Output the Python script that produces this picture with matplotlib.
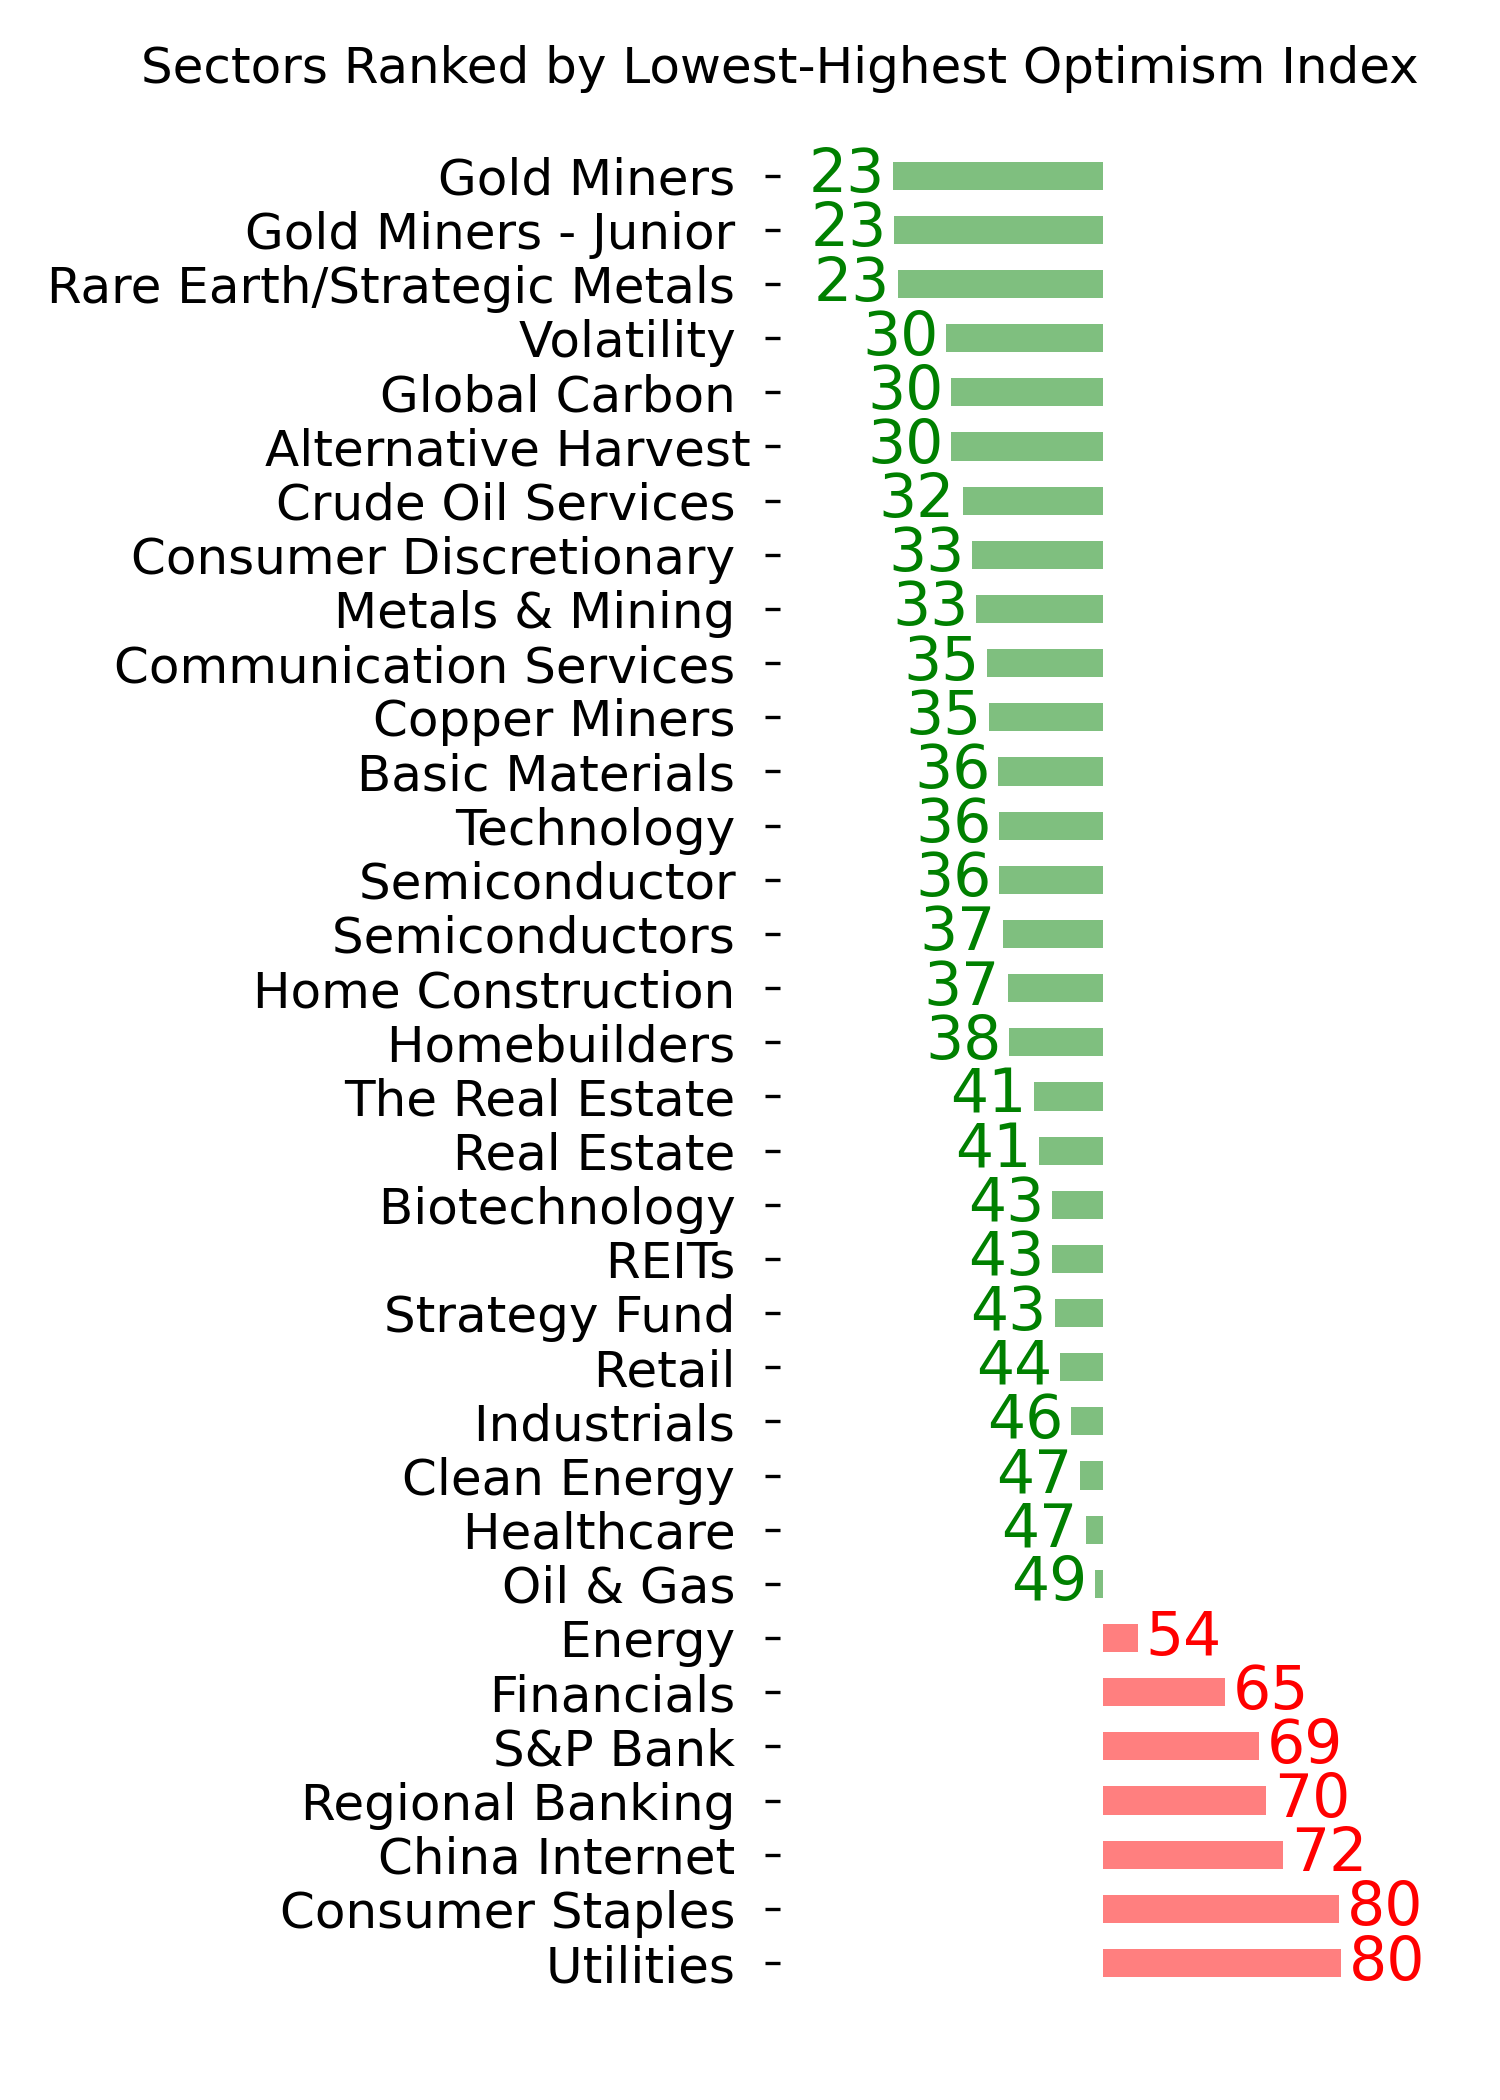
import matplotlib
matplotlib.use("Agg")
import matplotlib.pyplot as plt

# sector names as they appear on the axis (most carry a trailing space)
sectors = ['Gold Miners ', 'Gold Miners - Junior ', 'Rare Earth/Strategic Metals ', 'Volatility ',
           'Global Carbon ', 'Alternative Harvest', 'Crude Oil Services ', 'Consumer Discretionary ',
           'Metals & Mining ', 'Communication Services ', 'Copper Miners ', 'Basic Materials ',
           'Technology ', 'Semiconductor ', 'Semiconductors ', 'Home Construction ', 'Homebuilders ',
           'The Real Estate ', 'Real Estate ', 'Biotechnology ', 'REITs ', 'Strategy Fund ', 'Retail ',
           'Industrials ', 'Clean Energy ', 'Healthcare ', 'Oil & Gas ', 'Energy ', 'Financials ',
           'S&P Bank ', 'Regional Banking ', 'China Internet ', 'Consumer Staples ', 'Utilities ']

optimism = [23.30, 23.50, 23.95, 30.11, 30.75, 30.75, 32.20, 33.42, 33.93, 35.33, 35.59,
            36.73, 36.86, 36.86, 37.37, 37.95, 38.13, 41.31, 41.95, 43.60, 43.60, 43.90,
            44.61, 46.01, 47.15, 47.84, 49.06, 54.45, 65.56, 69.89, 70.78, 72.95, 80.03, 80.33]

neutral = 50
title = 'Sectors Ranked by Lowest-Highest Optimism Index'

fig = plt.figure(figsize=(5, 7), dpi=300)
ax = fig.add_axes([780.3 / 1500, 1 - 1990.1 / 2100, 644.5 / 1500, 1841.5 / 2100])

ypos = list(range(len(sectors)))
for y, v in zip(ypos, optimism):
    c = 'green' if v < neutral else 'red'
    ax.barh(y, v - neutral, left=neutral, height=0.52, color=c, alpha=0.5)
    if v < neutral:
        ax.text(v - 1, y, '%d' % int(v), color=c, fontsize=14.4, ha='right', va='center')
    else:
        ax.text(v + 1, y, '%d' % int(v), color=c, fontsize=14.4, ha='left', va='center')

ax.set_yticks(ypos)
ax.set_yticklabels(sectors, fontsize=12)
ax.set_ylim(len(sectors) - 0.5, -0.5)
ax.set_xlim(9, 91)
ax.set_xticks([])
for s in ax.spines.values():
    s.set_visible(False)

fig.text(780 / 1500, 1 - 83 / 2100, title, fontsize=12, ha='center', va='baseline')

fig.savefig('out.png', dpi=300)
